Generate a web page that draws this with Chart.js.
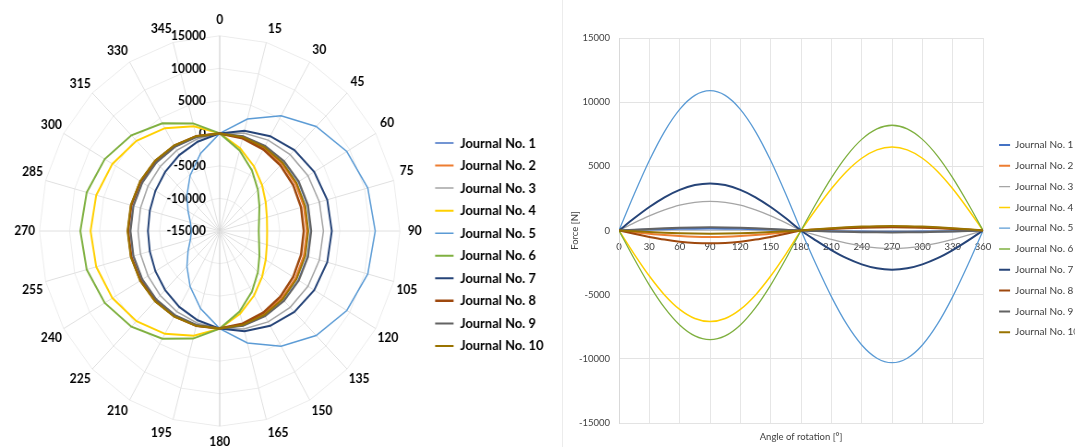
<!DOCTYPE html>
<html>
<head>
<meta charset="utf-8">
<script src="https://cdn.jsdelivr.net/npm/chart.js@4.4.1/dist/chart.umd.min.js"></script>
<style>
html,body{margin:0;padding:0;background:#fff;overflow:hidden;width:1087px;height:447px;}
#leftWrap{position:absolute;left:0;top:0;transform-origin:0 0;transform:scale(0.923,1);}
#rightWrap{position:absolute;left:556px;top:0;}
#frame{position:absolute;left:562px;top:0;width:0;height:447px;border-left:1px solid #ececec;}
</style>
</head>
<body>
<div id="frame"></div>
<div id="leftWrap"><canvas id="radar" width="620" height="464"></canvas></div>
<div id="rightWrap"><canvas id="line" width="560" height="447"></canvas></div>
<script>
// ---- data ----
const angles = [0,15,30,45,60,75,90,105,120,135,150,165,180,195,210,225,240,255,270,285,300,315,330,345,360];
const seriesNames = ['Journal No. 1','Journal No. 2','Journal No. 3','Journal No. 4','Journal No. 5',
                     'Journal No. 6','Journal No. 7','Journal No. 8','Journal No. 9','Journal No. 10'];
const j1  = [0,40,75,105,130,145,150,145,130,105,75,40,0,-25,-50,-70,-85,-95,-100,-95,-85,-70,-50,-25,0];
const j2  = [0,-130,-250,-355,-435,-485,-500,-485,-435,-355,-250,-130,0,80,150,210,260,290,300,290,260,210,150,80,0];
const j3  = [0,590,1135,1600,1970,2190,2270,2190,1970,1600,1135,590,0,-360,-700,-990,-1210,-1350,-1400,-1350,-1210,-990,-700,-360,0];
const j4  = [0,-1840,-3550,-5020,-6150,-6860,-7100,-6860,-6150,-5020,-3550,-1840,0,1680,3250,4600,5630,6280,6500,6280,5630,4600,3250,1680,0];
const j5  = [0,2820,5450,7710,9440,10530,10900,10530,9440,7710,5450,2820,0,-2670,-5150,-7280,-8920,-9950,-10300,-9950,-8920,-7280,-5150,-2670,0];
const j6  = [0,-2200,-4250,-6010,-7360,-8210,-8500,-8210,-7360,-6010,-4250,-2200,0,2120,4100,5800,7100,7920,8200,7920,7100,5800,4100,2120,0];
const j7  = [0,950,1830,2590,3170,3540,3670,3540,3170,2590,1830,950,0,-790,-1525,-2160,-2640,-2950,-3050,-2950,-2640,-2160,-1525,-790,0];
const j8  = [0,-260,-500,-710,-870,-970,-1000,-970,-870,-710,-500,-260,0,65,125,175,215,240,250,240,215,175,125,65,0];
const j9  = [0,65,125,175,215,240,250,240,215,175,125,65,0,-40,-75,-105,-130,-145,-150,-145,-130,-105,-75,-40,0];
const j10 = [0,-65,-125,-175,-215,-240,-250,-240,-215,-175,-125,-65,0,90,175,250,305,340,350,340,305,250,175,90,0];
const seriesValues = [j1,j2,j3,j4,j5,j6,j7,j8,j9,j10];
const yTickMin = -15000, yTickMax = 15000, yTickStep = 5000;
const xTickMin = 0, xTickMax = 360, xTickStep = 30;

// ---- styles ----
const seriesColors = ['#4472C4','#ED7D31','#A5A5A5','#FFD000','#5B9BD5','#7FB040','#264478','#9E480E','#636363','#997300'];
const radarWidths = [1.5,2,1.5,2,1.5,2,2,2.5,2,2];
const lineWidths  = [2,2,1.3,1.5,1.3,1.3,2,2,2,2];

Chart.defaults.font.family = 'Lato';
const mctx = document.createElement('canvas').getContext('2d');
function measure(text, font){ mctx.font = font; return mctx.measureText(text).width; }

// ---- left: radar ----
const lp1 = 8.55, bw1 = 20, fs1 = 14;
const L1 = 462.85;

const radialTickText = {
  id: 'radialTickText',
  beforeDatasetsDraw(chart) {
    const s = chart.scales.r, ctx = chart.ctx;
    ctx.save();
    ctx.font = 'bold 13px Lato';
    ctx.fillStyle = '#000';
    ctx.textAlign = 'right';
    ctx.textBaseline = 'middle';
    s.ticks.forEach(t => {
      ctx.fillText(String(t.value), s.xCenter - 15, s.yCenter - s.getDistanceFromCenterForValue(t.value));
    });
    ctx.restore();
  }
};

const radar = new Chart(document.getElementById('radar'), {
  type: 'radar',
  data: {
    labels: angles.slice(0, 24).map(String),
    datasets: seriesValues.map((vals, i) => ({
      label: seriesNames[i],
      data: vals.slice(0, 24),
      borderColor: seriesColors[i],
      backgroundColor: seriesColors[i],
      borderWidth: radarWidths[i],
      pointRadius: 0,
      pointHoverRadius: 0,
      fill: false,
      tension: 0,
      order: 10 - i
    }))
  },
  options: {
    responsive: false,
    animation: false,
    devicePixelRatio: 1,
    layout: { padding: { left: 10, right: 20, top: 13, bottom: 13 } },
    scales: {
      r: {
        min: yTickMin, max: yTickMax,
        ticks: { stepSize: yTickStep, display: false },
        grid: { color: '#ececec', lineWidth: 1 },
        angleLines: { color: c => (c.index % 12 === 0 ? '#c8c8c8' : '#e0e0e0'), lineWidth: 1 },
        pointLabels: {
          color: '#000',
          font: { family: 'Lato', size: 13, weight: 'bold' },
          padding: c => {
            const a = c.index * 15 * Math.PI / 180;
            const w = measure(c.label, 'bold 13px Lato');
            const h = 13 * 1.2;
            const d = w / 2 * Math.abs(Math.sin(a)) + h / 2 * Math.abs(Math.cos(a));
            return Math.max(0, 16 - d);
          }
        }
      }
    },
    plugins: {
      tooltip: { enabled: false },
      legend: {
        position: 'right',
        align: 'start',
        title: { display: true, text: '', font: { size: 10 }, padding: { top: 102.45, bottom: 0 } },
        labels: {
          usePointStyle: true, pointStyle: 'line', pointStyleWidth: bw1,
          padding: lp1, color: '#000',
          font: { family: 'Lato', size: fs1, weight: 'bold' },
          sort: (a, b) => a.datasetIndex - b.datasetIndex
        }
      }
    }
  },
  plugins: [radialTickText]
});
for (let k = 0; k < 3; k++) {
  radar.options.layout.padding.right += radar.legend.left - L1;
  radar.update();
}

// ---- right: line ----
const lp2 = 10.8, bw2 = 11, fs2 = 10;
const L2 = 432.2, A2 = 427;
let y2W = 5.2;
const axFont = { family: 'Lato', size: 9.5 };
const axColor = '#404040';

const line = new Chart(document.getElementById('line'), {
  type: 'line',
  data: {
    datasets: seriesValues.map((vals, i) => ({
      label: seriesNames[i],
      data: angles.map((a, k) => ({ x: a, y: vals[k] })),
      borderColor: seriesColors[i],
      backgroundColor: seriesColors[i],
      borderWidth: lineWidths[i],
      pointRadius: 0,
      pointHoverRadius: 0,
      fill: false,
      cubicInterpolationMode: 'monotone',
      order: 10 - i,
      xAxisID: 'x',
      yAxisID: 'y'
    }))
  },
  options: {
    responsive: false,
    animation: false,
    devicePixelRatio: 1,
    layout: { padding: { left: 0, right: 20, top: 38, bottom: 0 } },
    scales: {
      x: {
        type: 'linear', min: xTickMin, max: xTickMax, position: { y: 0 },
        ticks: { stepSize: xTickStep, font: axFont, color: axColor, padding: 11, autoSkip: false, maxRotation: 0 },
        grid: { color: '#e6e6e6', drawTicks: false },
        border: { color: '#bfbfbf' }
      },
      y: {
        type: 'linear', min: yTickMin, max: yTickMax, position: 'left',
        ticks: { stepSize: yTickStep, font: axFont, color: axColor, padding: 9, callback: v => String(v) },
        grid: { color: '#e3e3e3', drawTicks: false },
        border: { color: '#d9d9d9' },
        title: { display: true, text: 'Force [N]', font: axFont, color: axColor, padding: { top: 13.3, bottom: 0 } },
        afterFit: s => { s.width = 63; }
      },
      x2: {
        type: 'linear', axis: 'x', min: xTickMin, max: xTickMax, position: 'bottom',
        ticks: { display: false }, grid: { display: false }, border: { display: false },
        title: { display: true, text: 'Angle of rotation [°]', font: axFont, color: axColor, padding: { top: 0, bottom: 4.3 } },
        afterFit: s => { s.height = 24; }
      },
      y2: {
        type: 'linear', axis: 'y', position: 'right',
        ticks: { display: false }, grid: { display: false }, border: { display: false },
        afterFit: s => { s.width = y2W; }
      }
    },
    plugins: {
      tooltip: { enabled: false },
      legend: {
        position: 'right',
        align: 'start',
        title: { display: true, text: '', font: { size: 10 }, padding: { top: 79.2, bottom: 0 } },
        labels: {
          usePointStyle: true, pointStyle: 'line', pointStyleWidth: bw2,
          padding: lp2, color: axColor,
          font: { family: 'Lato', size: fs2 },
          sort: (a, b) => a.datasetIndex - b.datasetIndex
        }
      }
    }
  }
});
for (let k = 0; k < 3; k++) {
  const dl = line.legend.left - L2;
  line.options.layout.padding.right += dl;
  y2W = Math.max(0, y2W + (line.chartArea.right - A2) - dl);
  line.update();
}
</script>
</body>
</html>
